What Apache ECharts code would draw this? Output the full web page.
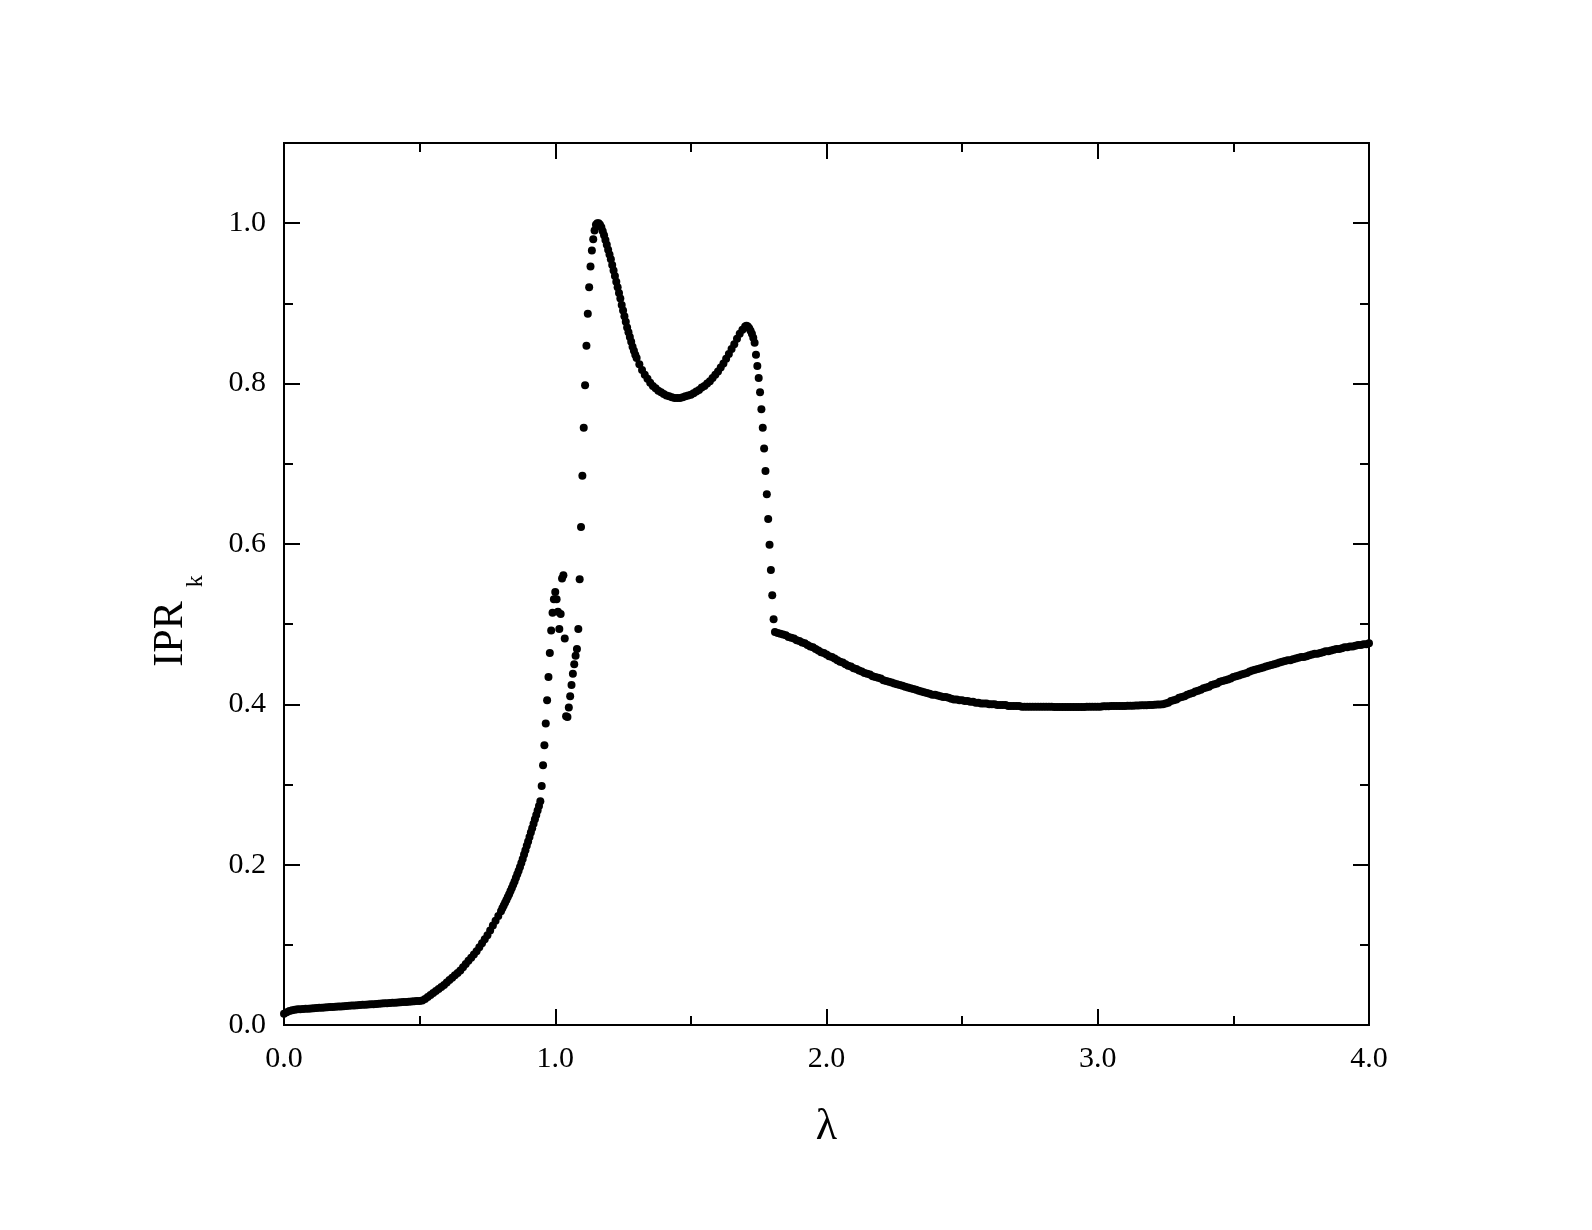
<!DOCTYPE html>
<html>
<head>
<meta charset="utf-8">
<title>IPR_k vs lambda</title>
<script src="https://cdn.jsdelivr.net/npm/echarts@6/dist/echarts.min.js"></script>
<style>
    html, body { margin: 0; padding: 0; background: #ffffff; }
    #chart { width: 1592px; height: 1230px; }
</style>
</head>
<body>
<div id="chart"></div>
<script>
// IPR_k, piece by piece (lambda start, lambda step, values)
const iprLow = [ // 0.00 .. 0.80, step 0.01
    0.014, 0.016, 0.0175, 0.0185, 0.019, 0.0195, 0.0197, 0.0200, 0.0202, 0.0204,
    0.0207, 0.0209, 0.0211, 0.0214, 0.0216, 0.0218, 0.0221, 0.0223, 0.0225, 0.0228,
    0.0230, 0.0232, 0.0235, 0.0237, 0.0239, 0.0242, 0.0244, 0.0246, 0.0249, 0.0251,
    0.0253, 0.0256, 0.0258, 0.0260, 0.0263, 0.0265, 0.0267, 0.0270, 0.0272, 0.0274,
    0.0277, 0.0279, 0.0281, 0.0284, 0.0286, 0.0288, 0.0291, 0.0293, 0.0295, 0.0298,
    0.0300, 0.0305, 0.0325, 0.035, 0.0375, 0.040, 0.0425, 0.045, 0.0475, 0.050,
    0.053, 0.056, 0.059, 0.062, 0.065, 0.068, 0.072, 0.076, 0.080, 0.084,
    0.088, 0.092, 0.097, 0.102, 0.107, 0.112, 0.118, 0.124, 0.130, 0.136,
    0.142
];
const iprRise = [ // 0.805 .. 1.300, step 0.005
    0.1455, 0.149, 0.1525, 0.156, 0.1595, 0.163, 0.167, 0.171, 0.175, 0.179,
    0.1835, 0.188, 0.1925, 0.197, 0.202, 0.207, 0.2125, 0.218, 0.2235, 0.229,
    0.2345, 0.240, 0.2455, 0.251, 0.2565, 0.262, 0.2675, 0.273, 0.279, 0.298,
    0.324, 0.349, 0.376, 0.405, 0.434, 0.464, 0.492, 0.514, 0.531, 0.540,
    0.531, 0.5155, 0.494, 0.5126, 0.557, 0.561, 0.482, 0.385, 0.384, 0.396,
    0.410, 0.424, 0.438, 0.450, 0.4606, 0.469, 0.494, 0.556, 0.621, 0.685,
    0.745, 0.798, 0.847, 0.887, 0.920, 0.946, 0.966, 0.980, 0.991, 0.998,
    1.000, 1.000, 0.998, 0.995, 0.990, 0.985, 0.979, 0.973, 0.967, 0.961,
    0.955, 0.948, 0.941, 0.934, 0.927, 0.920, 0.913, 0.906, 0.898, 0.891,
    0.884, 0.877, 0.870, 0.864, 0.858, 0.852, 0.846, 0.841, 0.836, 0.832
];
const iprDip = [ // 1.31 .. 1.70, step 0.01
    0.824, 0.817, 0.811, 0.806, 0.801, 0.797, 0.794, 0.791, 0.789, 0.787,
    0.785, 0.784, 0.783, 0.782, 0.782, 0.782, 0.783, 0.784, 0.785, 0.786,
    0.788, 0.790, 0.792, 0.795, 0.797, 0.800, 0.803, 0.807, 0.811, 0.815,
    0.820, 0.825, 0.831, 0.837, 0.843, 0.849, 0.856, 0.862, 0.867, 0.871
];
const iprFall = [ // 1.705 .. 1.805, step 0.005
    0.872, 0.871, 0.869, 0.866, 0.862, 0.857, 0.851, 0.836, 0.822, 0.807,
    0.789, 0.768, 0.745, 0.719, 0.691, 0.662, 0.631, 0.599, 0.5675, 0.536,
    0.506
];
const iprTail = [ // 1.81 .. 4.00, step 0.01
    0.490, 0.489, 0.488, 0.487, 0.486, 0.484, 0.483, 0.482, 0.480, 0.479,
    0.477, 0.476, 0.474, 0.472, 0.471, 0.469, 0.467, 0.465, 0.464, 0.462,
    0.460, 0.459, 0.457, 0.455, 0.453, 0.452, 0.450, 0.448, 0.447, 0.445,
    0.444, 0.442, 0.441, 0.439, 0.438, 0.437, 0.435, 0.434, 0.433, 0.432,
    0.430, 0.429, 0.428, 0.427, 0.426, 0.425, 0.424, 0.423, 0.422, 0.421,
    0.420, 0.419, 0.418, 0.417, 0.416, 0.415, 0.414, 0.413, 0.412, 0.412,
    0.411, 0.410, 0.409, 0.409, 0.408, 0.407, 0.406, 0.406, 0.405, 0.405,
    0.404, 0.404, 0.403, 0.403, 0.402, 0.402, 0.401, 0.401, 0.401, 0.400,
    0.400, 0.400, 0.399, 0.399, 0.399, 0.399, 0.398, 0.398, 0.398, 0.398,
    0.398, 0.397, 0.397, 0.397, 0.397, 0.397, 0.397, 0.397, 0.397, 0.397,
    0.397, 0.397, 0.3968, 0.3967, 0.3966, 0.3966, 0.3966, 0.3966, 0.3966, 0.3966,
    0.3966, 0.3966, 0.3966, 0.3967, 0.3967, 0.3968, 0.3968, 0.3969, 0.397, 0.397,
    0.397, 0.3975, 0.3975, 0.3976, 0.3977, 0.3978, 0.3978, 0.3979, 0.398, 0.398,
    0.3981, 0.3982, 0.3983, 0.3984, 0.3986, 0.3987, 0.3988, 0.3989, 0.399, 0.3992,
    0.3994, 0.3996, 0.3998, 0.400, 0.401, 0.402, 0.404, 0.405, 0.406, 0.408,
    0.409, 0.410, 0.412, 0.413, 0.414, 0.416, 0.417, 0.418, 0.420, 0.421,
    0.422, 0.424, 0.425, 0.426, 0.428, 0.429, 0.430, 0.431, 0.432, 0.434,
    0.435, 0.436, 0.437, 0.438, 0.439, 0.441, 0.442, 0.443, 0.444, 0.445,
    0.446, 0.447, 0.448, 0.449, 0.450, 0.451, 0.452, 0.453, 0.454, 0.455,
    0.455, 0.456, 0.457, 0.458, 0.459, 0.459, 0.460, 0.461, 0.462, 0.463,
    0.463, 0.464, 0.465, 0.466, 0.466, 0.467, 0.468, 0.469, 0.469, 0.470,
    0.471, 0.471, 0.472, 0.472, 0.473, 0.474, 0.474, 0.475, 0.475, 0.476
];

const segStarts = [0, 0.805, 1.31, 1.705, 1.81];
const segSteps = [0.01, 0.005, 0.01, 0.005, 0.01];
const segValues = [iprLow, iprRise, iprDip, iprFall, iprTail];

const fontFamily = 'Liberation Serif';
const ink = '#000000';

let points = [];
segValues.forEach(function (vals, s) {
    vals.forEach(function (v, i) {
        let lam = Math.round((segStarts[s] + i * segSteps[s]) * 1000) / 1000;
        points.push([lam, v]);
    });
});

function xAxisDef(pos, withLabels) {
    return {
        type: 'value',
        position: pos,
        min: 0,
        max: 4,
        interval: 1,
        name: withLabels ? 'λ' : '',
        nameLocation: 'middle',
        nameGap: 80,
        nameTextStyle: { fontFamily: fontFamily, fontSize: 44, color: ink },
        axisLine: { show: true, onZero: false, lineStyle: { color: ink, width: 2 } },
        axisTick: { show: true, inside: true, length: 16, lineStyle: { color: ink, width: 2 } },
        minorTick: { show: true, splitNumber: 2, length: 9, lineStyle: { color: ink, width: 2 } },
        axisLabel: {
            show: withLabels,
            margin: 19,
            fontFamily: fontFamily,
            fontSize: 30,
            color: ink,
            showMinLabel: true,
            showMaxLabel: true,
            formatter: function (v) { return v.toFixed(1); }
        },
        splitLine: { show: false },
        minorSplitLine: { show: false }
    };
}

function yAxisDef(pos, interval, tickLen, withLabels) {
    return {
        type: 'value',
        position: pos,
        min: 0,
        max: 1.1,
        interval: interval,
        name: withLabels ? '{a|IPR}{b|k}' : '',
        nameLocation: 'middle',
        nameRotate: 90,
        nameGap: 42,
        nameTextStyle: {
            color: ink,
            fontFamily: fontFamily,
            fontSize: 42,
            rich: {
                // subscript: a tall line box drops "k" below the IPR baseline
                a: { fontFamily: fontFamily, fontSize: 42, color: ink, verticalAlign: 'top', lineHeight: 44 },
                b: { fontFamily: fontFamily, fontSize: 24, color: ink, lineHeight: 92, padding: [0, 74, 0, 14] }
            }
        },
        axisLine: { show: true, onZero: false, lineStyle: { color: ink, width: 2 } },
        axisTick: { show: true, inside: true, length: tickLen, lineStyle: { color: ink, width: 2 } },
        axisLabel: {
            show: withLabels,
            margin: 18,
            fontFamily: fontFamily,
            fontSize: 30,
            color: ink,
            formatter: function (v) { return v > 1.05 ? '' : v.toFixed(1); }
        },
        splitLine: { show: false }
    };
}

const chart = echarts.init(document.getElementById('chart'), null, { renderer: 'canvas' });
chart.setOption({
    backgroundColor: '#ffffff',
    animation: false,
    grid: { left: 284, right: 223, top: 143, bottom: 205, containLabel: false },
    xAxis: [
        xAxisDef('bottom', true),
        xAxisDef('top', false)
    ],
    yAxis: [
        yAxisDef('left', 0.2, 16, true),
        yAxisDef('left', 0.1, 9, false),
        yAxisDef('right', 0.2, 16, false),
        yAxisDef('right', 0.1, 9, false)
    ],
    series: [{
        type: 'scatter',
        xAxisIndex: 0,
        yAxisIndex: 0,
        data: points,
        symbol: 'circle',
        symbolSize: 8,
        itemStyle: { color: ink, opacity: 1 },
        emphasis: { disabled: true },
        clip: true
    }]
});
</script>
</body>
</html>
